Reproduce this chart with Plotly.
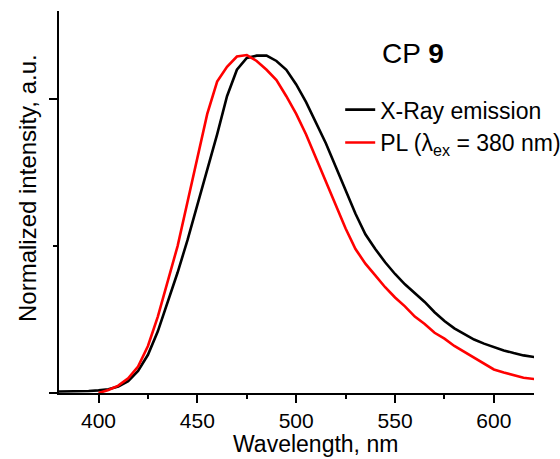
import plotly.graph_objects as go

# Emission spectra, wavelength in nm, normalized intensity in a.u.
wl_xray = [380, 385, 390, 395, 400, 405, 410, 415, 420, 425, 430, 435, 440, 445,
           450, 455, 460, 465, 470, 475, 480, 485, 490, 495, 500, 505, 510, 515,
           520, 525, 530, 535, 540, 545, 550, 555, 560, 565, 570, 575, 580, 585,
           590, 595, 600, 605, 610, 615, 621]
int_xray = [0.005, 0.005, 0.006, 0.007, 0.009, 0.013, 0.022, 0.040, 0.075, 0.13,
            0.21, 0.31, 0.41, 0.52, 0.64, 0.76, 0.88, 1.01, 1.10, 1.14, 1.148,
            1.148, 1.13, 1.10, 1.05, 0.99, 0.92, 0.85, 0.77, 0.69, 0.61, 0.54,
            0.49, 0.445, 0.405, 0.37, 0.34, 0.31, 0.275, 0.245, 0.22, 0.20,
            0.182, 0.168, 0.156, 0.145, 0.136, 0.128, 0.122]

wl_pl = [400, 405, 410, 415, 420, 425, 430, 435, 440, 445, 450, 455, 460, 465,
         470, 475, 480, 485, 490, 495, 500, 505, 510, 515, 520, 525, 530, 535,
         540, 545, 550, 555, 560, 565, 570, 575, 580, 585, 590, 595, 600, 605,
         610, 615, 621]
int_pl = [0.0, 0.010, 0.025, 0.050, 0.09, 0.16, 0.26, 0.38, 0.50, 0.65, 0.80,
          0.95, 1.06, 1.11, 1.145, 1.15, 1.13, 1.10, 1.065, 1.01, 0.95, 0.88,
          0.80, 0.72, 0.64, 0.56, 0.49, 0.44, 0.40, 0.36, 0.325, 0.295, 0.26,
          0.235, 0.205, 0.185, 0.16, 0.14, 0.12, 0.10, 0.08, 0.07, 0.06, 0.052,
          0.047]

x_ticks = [400, 450, 500, 550, 600]
series_names = ["X-Ray emission", "PL (λ<sub>ex</sub> = 380 nm)"]
panel_label = "CP <b>9</b>"

FONT = "Liberation Sans, Arial, sans-serif"

fig = go.Figure()
fig.add_trace(go.Scatter(x=wl_xray, y=int_xray, mode="lines", name=series_names[0],
                         line=dict(color="black", width=2.6), cliponaxis=False))
fig.add_trace(go.Scatter(x=wl_pl, y=int_pl, mode="lines", name=series_names[1],
                         line=dict(color="#ff0000", width=2.6), cliponaxis=False))

fig.update_layout(
    width=560, height=459,
    margin=dict(l=59, r=26, t=11, b=66, autoexpand=False),
    paper_bgcolor="white", plot_bgcolor="white",
    font=dict(family=FONT, color="black", size=21),
    showlegend=True,
    legend=dict(x=0.592, y=0.798, xanchor="left", yanchor="top",
                bgcolor="rgba(0,0,0,0)", borderwidth=0,
                font=dict(size=23, family=FONT), itemwidth=30,
                tracegroupgap=0),
    xaxis=dict(range=[380, 620.3], tickvals=x_ticks, ticks="outside", ticklen=8,
               tickwidth=1.5, tickcolor="black", showline=True, linecolor="black",
               linewidth=1.5, showgrid=False, zeroline=False,
               tickfont=dict(size=21),
               minor=dict(dtick=25, tick0=400, ticks="outside", ticklen=4,
                          tickwidth=1.5, tickcolor="black")),
    yaxis=dict(range=[0, 1.3], tickvals=[0, 1], ticks="outside", ticklen=8,
               tickwidth=1.5, tickcolor="black", showline=True, linecolor="black",
               linewidth=1.5, showgrid=False, zeroline=False, showticklabels=False,
               minor=dict(tickvals=[0.5], ticks="outside", ticklen=4,
                          tickwidth=1.5, tickcolor="black")),
    annotations=[
        dict(text="Wavelength, nm", xref="paper", yref="paper", x=0.54, y=0,
             xanchor="center", yanchor="middle", yshift=-51, showarrow=False,
             font=dict(size=23)),
        dict(text="Normalized intensity, a.u.", xref="paper", yref="paper",
             x=0, y=0.5, xanchor="center", yanchor="middle", xshift=-32,
             yshift=14, textangle=-90, showarrow=False, font=dict(size=24)),
        dict(text=panel_label, xref="paper", yref="paper", x=0.745, y=0.89,
             xanchor="center", yanchor="middle", showarrow=False,
             font=dict(size=28)),
    ],
)

fig.write_html("out.html")
